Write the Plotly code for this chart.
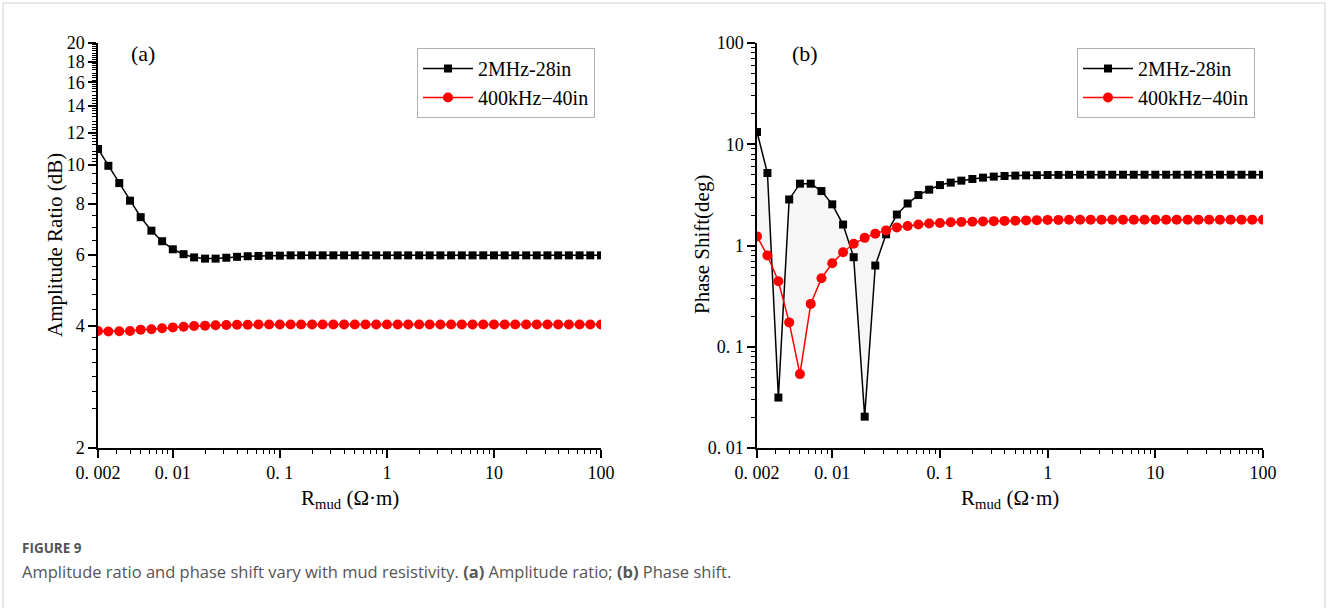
import plotly.graph_objects as go
import math

# ---------------- data ----------------
rmud = [0.002, 0.0025, 0.00316, 0.00398, 0.00501, 0.00631, 0.00794,
        0.01, 0.0126, 0.0158, 0.02, 0.0251, 0.0316, 0.0398, 0.0501, 0.0631, 0.0794,
        0.1, 0.126, 0.158, 0.2, 0.251, 0.316, 0.398, 0.501, 0.631, 0.794,
        1, 1.26, 1.58, 2.0, 2.51, 3.16, 3.98, 5.01, 6.31, 7.94,
        10, 12.6, 15.8, 20, 25.1, 31.6, 39.8, 50.1, 63.1, 79.4, 100]

amp_2mhz = [10.95, 9.95, 9.02, 8.16, 7.43, 6.88, 6.48, 6.19, 6.02, 5.91, 5.87, 5.87,
            5.90, 5.93, 5.95, 5.96, 5.97, 5.97, 5.98, 5.98, 5.98, 5.98, 5.98, 5.98,
            5.98, 5.98, 5.98, 5.98, 5.98, 5.98, 5.98, 5.98, 5.98, 5.98, 5.98, 5.98,
            5.98, 5.98, 5.98, 5.98, 5.98, 5.98, 5.98, 5.98, 5.98, 5.98, 5.98, 5.98]
amp_400k = [3.89, 3.88, 3.885, 3.89, 3.92, 3.93, 3.95, 3.97, 3.985, 4.0, 4.01, 4.02,
            4.025, 4.03, 4.03, 4.035, 4.035, 4.035, 4.035, 4.035, 4.035, 4.035, 4.035, 4.035,
            4.035, 4.035, 4.035, 4.035, 4.035, 4.035, 4.035, 4.035, 4.035, 4.035, 4.035, 4.035,
            4.035, 4.035, 4.035, 4.035, 4.035, 4.035, 4.035, 4.035, 4.035, 4.035, 4.035, 4.035]

ph_2mhz = [13.2, 5.2, 0.0315, 2.85, 4.08, 4.08, 3.45, 2.55, 1.61, 0.766, 0.0204, 0.634,
           1.29, 2.02, 2.6, 3.15, 3.56, 3.95, 4.18, 4.37, 4.54, 4.68, 4.79, 4.86,
           4.9, 4.93, 4.95, 4.97, 4.98, 4.99, 5.0, 5.0, 5.0, 5.0, 5.0, 5.0,
           5.0, 5.0, 5.0, 5.0, 5.0, 5.0, 5.0, 5.0, 5.0, 5.0, 5.0, 5.0]
ph_400k = [1.23, 0.796, 0.443, 0.174, 0.0537, 0.265, 0.475, 0.668, 0.858, 1.04, 1.19, 1.31,
           1.41, 1.51, 1.56, 1.61, 1.65, 1.67, 1.7, 1.71, 1.72, 1.73, 1.74, 1.75,
           1.76, 1.77, 1.78, 1.79, 1.79, 1.8, 1.8, 1.8, 1.8, 1.8, 1.8, 1.8,
           1.8, 1.8, 1.8, 1.8, 1.8, 1.8, 1.8, 1.8, 1.8, 1.8, 1.8, 1.8]

fill_end = 13  # shaded region between the two phase curves (up to first crossing)

series_names = ["2MHz-28in", "400kHz\u221240in"]

x_tickvals = [0.002, 0.01, 0.1, 1, 10, 100]
x_ticktext = ["0. 002", "0. 01", "0. 1", "1", "10", "100"]
x_minor = [0.003, 0.004, 0.005, 0.006, 0.007, 0.008, 0.009,
           0.02, 0.03, 0.04, 0.05, 0.06, 0.07, 0.08, 0.09,
           0.2, 0.3, 0.4, 0.5, 0.6, 0.7, 0.8, 0.9,
           2, 3, 4, 5, 6, 7, 8, 9,
           20, 30, 40, 50, 60, 70, 80, 90]

ya_tickvals = [2, 4, 6, 8, 10, 12, 14, 16, 18, 20]
ya_minor = ([2.5, 2.75, 3.0, 3.25, 3.5, 3.75]
            + [4.4, 4.8, 5.2, 5.6, 6.5, 7.0, 7.5, 8.5, 9.0, 9.5]
            + [10.2, 10.4, 10.6, 10.8, 11.2, 11.4, 11.6, 11.8,
               12.2, 12.4, 12.6, 12.8, 13.2, 13.4, 13.6, 13.8,
               14.2, 14.4, 14.6, 14.8, 15.2, 15.4, 15.6, 15.8,
               16.2, 16.4, 16.6, 16.8, 17.2, 17.4, 17.6, 17.8,
               18.2, 18.4, 18.6, 18.8, 19.2, 19.4, 19.6, 19.8])

yb_tickvals = [0.01, 0.1, 1, 10, 100]
yb_ticktext = ["0. 01", "0. 1", "1", "10", "100"]
yb_minor = [0.02, 0.03, 0.04, 0.05, 0.06, 0.07, 0.08, 0.09,
            0.2, 0.3, 0.4, 0.5, 0.6, 0.7, 0.8, 0.9,
            2, 3, 4, 5, 6, 7, 8, 9,
            20, 30, 40, 50, 60, 70, 80, 90]

# ---------------- figure ----------------
SERIF = "Liberation Serif"
W, H = 1329, 608

def px_x(p):
    return p / W

def px_y(p):
    return 1 - p / H

fig = go.Figure()

# shaded region (panel b)
fig.add_trace(go.Scatter(
    x=rmud[:fill_end] + rmud[:fill_end][::-1],
    y=ph_2mhz[:fill_end] + ph_400k[:fill_end][::-1],
    fill="toself", fillcolor="#f6f6f6", line=dict(width=0),
    mode="lines", hoverinfo="skip", showlegend=False,
    xaxis="x2", yaxis="y2"))

marker_black = dict(symbol="square", size=8, color="black")
marker_red = dict(symbol="circle", size=10, color="#ff0000")

fig.add_trace(go.Scatter(x=rmud, y=amp_2mhz, name=series_names[0], mode="lines+markers",
                         line=dict(color="black", width=1.5), marker=marker_black,
                         xaxis="x", yaxis="y", legend="legend"))
fig.add_trace(go.Scatter(x=rmud, y=amp_400k, name=series_names[1], mode="lines+markers",
                         line=dict(color="#ff0000", width=1.5), marker=marker_red,
                         xaxis="x", yaxis="y", legend="legend"))
fig.add_trace(go.Scatter(x=rmud, y=ph_2mhz, name=series_names[0], mode="lines+markers",
                         line=dict(color="black", width=1.5), marker=marker_black,
                         xaxis="x2", yaxis="y2", legend="legend2"))
fig.add_trace(go.Scatter(x=rmud, y=ph_400k, name=series_names[1], mode="lines+markers",
                         line=dict(color="#ff0000", width=1.5), marker=marker_red,
                         xaxis="x2", yaxis="y2", legend="legend2"))

tickfont = dict(family=SERIF, size=18, color="black")
minor_common = dict(ticklen=4, tickwidth=1.2, tickcolor="black", ticks="outside")

def xaxis(domain, anchor):
    return dict(type="log", domain=domain, anchor=anchor, automargin=False,
                range=[math.log10(0.002), 2],
                tickvals=x_tickvals, ticktext=x_ticktext,
                ticks="outside", ticklen=8, tickwidth=1.5, tickcolor="black",
                minor=dict(tickvals=x_minor, **minor_common),
                showline=True, linecolor="black", linewidth=1.5,
                showgrid=False, zeroline=False, tickfont=tickfont)

ydom = [px_y(448), px_y(43)]
legend_common = dict(yanchor="top", xanchor="left",
                     bgcolor="white", bordercolor="#b0b0b0", borderwidth=1,
                     font=dict(family=SERIF, size=20, color="black"),
                     itemwidth=50, tracegroupgap=0)
fig.update_layout(
    width=W, height=H,
    margin=dict(l=0, r=0, t=0, b=0, autoexpand=False),
    paper_bgcolor="white", plot_bgcolor="white",
    xaxis=xaxis([px_x(98), px_x(601)], "y"),
    xaxis2=xaxis([px_x(757), px_x(1263)], "y2"),
    yaxis=dict(type="log", domain=ydom, anchor="x", automargin=False,
               range=[math.log10(2), math.log10(20)],
               tickvals=ya_tickvals, ticktext=[str(v) for v in ya_tickvals],
               ticks="outside", ticklen=8, tickwidth=1.5, tickcolor="black",
               minor=dict(tickvals=ya_minor, **minor_common),
               showline=True, linecolor="black", linewidth=1.5,
               showgrid=False, zeroline=False, tickfont=tickfont),
    yaxis2=dict(type="log", domain=ydom, anchor="x2", automargin=False,
                range=[-2, 2],
                tickvals=yb_tickvals, ticktext=yb_ticktext,
                ticks="outside", ticklen=8, tickwidth=1.5, tickcolor="black",
                minor=dict(tickvals=yb_minor, **minor_common),
                showline=True, linecolor="black", linewidth=1.5,
                showgrid=False, zeroline=False, tickfont=tickfont),
    legend=dict(x=px_x(417), y=px_y(48), **legend_common),
    legend2=dict(x=px_x(1077), y=px_y(48), **legend_common),
    showlegend=True,
)

ann_font = dict(family=SERIF, size=21, color="black")
def ann(text, x, y, font, xanchor="center", yanchor="middle", **kw):
    return dict(text=text, x=px_x(x), y=px_y(y), xref="paper", yref="paper",
                xanchor=xanchor, yanchor=yanchor, showarrow=False, font=font, **kw)

annotations = [
    ann("(a)", 143, 53, dict(family=SERIF, size=22, color="black")),
    ann("(b)", 805, 53, dict(family=SERIF, size=22, color="black")),
    ann("Amplitude Ratio (dB)", 55, 245, ann_font, textangle=-90),
    ann("Phase Shift(deg)", 702, 245, ann_font, textangle=-90),
    ann("R<sub>mud</sub> (\u03a9\u00b7m)", 350, 484, ann_font, yanchor="top"),
    ann("R<sub>mud</sub> (\u03a9\u00b7m)", 1010, 484, ann_font, yanchor="top"),
    ann("<b>FIGURE 9</b>", 20, 548, dict(family="Open Sans", size=13.5, color="#555555"),
        xanchor="left"),
    ann("Amplitude ratio and phase shift vary with mud resistivity. <b>(a)</b> Amplitude ratio; <b>(b)</b> Phase shift.",
        20, 571, dict(family="Open Sans", size=16.5, color="#555555"), xanchor="left"),
]
fig.update_layout(annotations=annotations)

# outer frame of the figure card
fig.add_shape(type="rect", xref="paper", yref="paper",
              x0=px_x(3), x1=px_x(1325), y0=px_y(615), y1=px_y(3),
              line=dict(color="#d0d0d0", width=1), layer="below")

fig.write_html("out.html")
